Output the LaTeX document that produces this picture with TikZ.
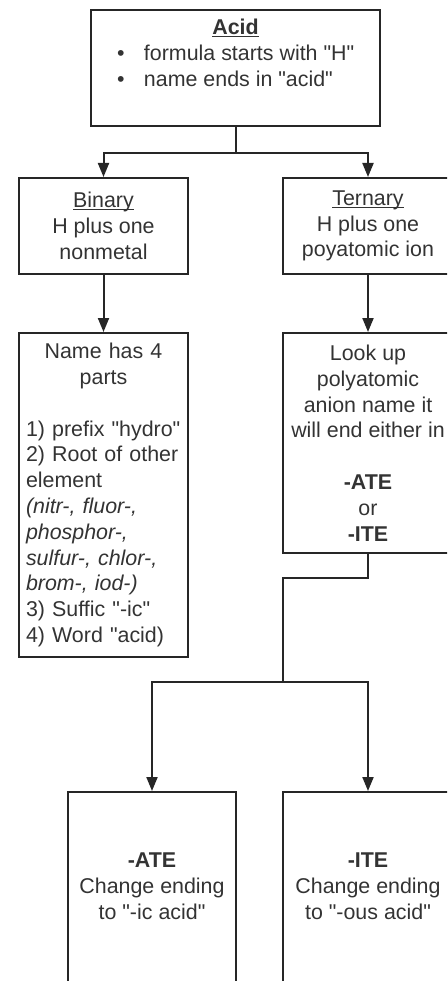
\documentclass[tikz,border=0pt]{standalone}
\usepackage{fontspec}
\setmainfont{Liberation Sans}[Ligatures=TeXOff]
\usepackage{tikz}
\usetikzlibrary{arrows.meta}
\newcommand{\ulbox}[1]{\underline{\vphantom{A}\smash{#1}}}

\begin{document}
\begin{tikzpicture}[x=1pt, y=-1pt,
    every node/.style={font=\fontsize{21.4}{25.8}\selectfont, text=black!80},
    box/.style={draw=black!85, line width=2pt, align=center, inner sep=0pt, minimum width=#1},
    box/.default=169pt,
    conn/.style={draw=black!85, line width=2pt},
    arr/.style={conn, -{Triangle[length=14pt, width=11pt]}}
  ]
  \useasboundingbox (0,0) rectangle (447,981);
  \clip (0,0) rectangle (447,981);

  % top of the tree
  \node[box=289pt, minimum height=116pt] (acid) at (235.5,68) {\ulbox{\textbf{Acid}}\\
      \makebox[237pt][l]{\makebox[27pt][l]{\textbullet}formula starts with "H"}\\
      \makebox[237pt][l]{\makebox[27pt][l]{\textbullet}name ends in "acid"}\\[4pt] \mbox{}};
  \node[box, minimum height=96pt] (binary) at (103.5,226) {\ulbox{Binary}\\H plus one\\nonmetal};
  \node[box=170pt, minimum height=96pt] (ternary) at (368,226) {\ulbox{Ternary}\\H plus one\\poyatomic ion};

  % second row
  \node[box, minimum height=324pt, text width=155pt, inner xsep=7pt, align=left] (parts) at (103.5,495) {{\centering Name has 4\\ parts\par}
      \strut\\
      1) prefix "hydro"\\
      2) Root of other\\
      element\\
      \textit{(nitr-, fluor-,}\\
      \textit{phosphor-,}\\
      \textit{sulfur-, chlor-,}\\
      \textit{brom-, iod-)}\\
      3) Suffic "-ic"\\
      4) Word "acid)};
  \node[box=170pt, minimum height=220pt] (lookup) at (368,443) {Look up\\polyatomic\\anion name it\\will end either in\\[25.8pt]\textbf{-ATE}\\or\\\textbf{-ITE}};

  % endings
  \node[box=168pt, minimum height=214pt] (ate) at (152,899) {\textbf{-ATE}\\Change ending\\to "-ic acid"\\ \mbox{}};
  \node[box=170pt, minimum height=214pt] (ite) at (368,899) {\textbf{-ITE}\\Change ending\\to "-ous acid"\\ \mbox{}};

  \draw[conn] (acid.south) -- ++(0,26) coordinate (fork1);
  \draw[arr] (fork1) -| (binary.north);
  \draw[arr] (fork1) -| (ternary.north);
  \draw[arr] (binary) -- (parts);
  \draw[arr] (ternary) -- (lookup);

  \coordinate (fork2) at (283,682);
  \draw[conn] (lookup.south) -- ++(0,24) -| (fork2);
  \draw[arr] (fork2) -| (ate.north);
  \draw[arr] (fork2) -| (ite.north);
\end{tikzpicture}
\end{document}
